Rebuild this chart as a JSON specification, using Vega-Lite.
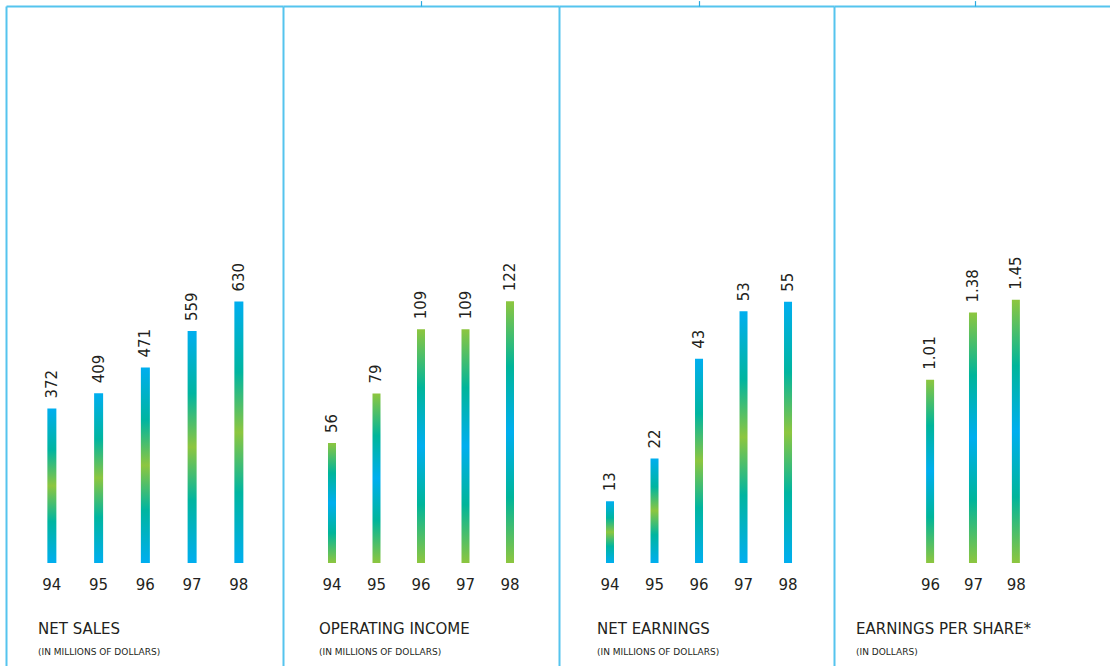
{
  "$schema": "https://vega.github.io/schema/vega-lite/v6.json",
  "background": "white",
  "padding": {"left": 6, "top": 0, "right": 0, "bottom": 0},
  "spacing": 0,
  "bounds": "flush",
  "config": {
    "view": {"stroke": null},
    "font": "DejaVu Sans",
    "axis": {"labelFont": "DejaVu Sans", "labelColor": "#231f20"},
    "title": {"font": "DejaVu Sans", "color": "#231f20", "fontSize": 15, "fontWeight": "normal", "subtitleFont": "DejaVu Sans", "subtitleFontSize": 9, "subtitleColor": "#231f20", "subtitlePadding": 11, "orient": "bottom", "anchor": "start", "frame": "group", "offset": -44}
  },
  "datasets": {
    "fin": [
      {"metric": "Net sales", "year": 94, "value": 372},
      {"metric": "Net sales", "year": 95, "value": 409},
      {"metric": "Net sales", "year": 96, "value": 471},
      {"metric": "Net sales", "year": 97, "value": 559},
      {"metric": "Net sales", "year": 98, "value": 630},
      {"metric": "Operating income", "year": 94, "value": 56},
      {"metric": "Operating income", "year": 95, "value": 79},
      {"metric": "Operating income", "year": 96, "value": 109},
      {"metric": "Operating income", "year": 97, "value": 109},
      {"metric": "Operating income", "year": 98, "value": 122},
      {"metric": "Net earnings", "year": 94, "value": 13},
      {"metric": "Net earnings", "year": 95, "value": 22},
      {"metric": "Net earnings", "year": 96, "value": 43},
      {"metric": "Net earnings", "year": 97, "value": 53},
      {"metric": "Net earnings", "year": 98, "value": 55},
      {"metric": "Earnings per share", "year": 96, "value": 1.01},
      {"metric": "Earnings per share", "year": 97, "value": 1.38},
      {"metric": "Earnings per share", "year": 98, "value": 1.45}
    ]
  },
  "hconcat": [
    {
      "width": 277, "height": 660,
      "data": {"name": "fin"},
      "transform": [{"filter": "datum.metric === 'Net sales'"}],
      "title": {"text": "NET SALES", "subtitle": "(IN MILLIONS OF DOLLARS)", "dx": 32},
      "encoding": {
        "x": {"field": "year", "type": "ordinal", "sort": null,
          "scale": {"paddingInner": 0, "paddingOuter": 0.4626, "align": 0.52},
          "axis": {"orient": "bottom", "offset": -77, "labelPadding": 0, "ticks": false, "domain": false, "title": null, "labelAngle": 0, "labelFontSize": 15, "labelBaseline": "alphabetic"}},
        "y": {"field": "value", "type": "quantitative",
          "scale": {"domain": [-248.2, 1342.2], "nice": false},
          "axis": {"orient": "left", "domain": true, "domainColor": "#55c4ee", "domainWidth": 2, "labels": false, "ticks": false, "title": null, "grid": true, "gridColor": "#55c4ee", "gridWidth": 2, "values": [1342.2]}}
      },
      "layer": [
        {"mark": {"type": "bar", "size": 9, "fill": {"gradient": "linear", "x1": 0, "y1": 0, "x2": 0, "y2": 1, "stops": [{"offset": 0, "color": "#00aeef"}, {"offset": 0.27, "color": "#00b5a0"}, {"offset": 0.5, "color": "#8dc63f"}, {"offset": 0.73, "color": "#00b5a0"}, {"offset": 1, "color": "#00aeef"}]}}},
        {"mark": {"type": "text", "angle": 270, "align": "left", "baseline": "middle", "dx": 10, "fontSize": 15, "color": "#231f20"},
          "encoding": {"text": {"field": "value", "type": "quantitative", "format": "d"}}}
      ]
    },
    {
      "width": 276, "height": 660,
      "data": {"name": "fin"},
      "transform": [{"filter": "datum.metric === 'Operating income'"}],
      "title": {"text": "OPERATING INCOME", "subtitle": "(IN MILLIONS OF DOLLARS)", "dx": 36},
      "encoding": {
        "y": {"field": "value", "type": "quantitative",
          "scale": {"domain": [-48.0, 259.7], "nice": false},
          "axis": {"orient": "left", "domain": true, "domainColor": "#55c4ee", "domainWidth": 2, "labels": false, "ticks": false, "title": null, "grid": true, "gridColor": "#55c4ee", "gridWidth": 2, "values": [259.7]}}
      },
      "resolve": {"axis": {"x": "independent"}},
      "layer": [
        {"mark": {"type": "bar", "size": 8, "fill": {"gradient": "linear", "x1": 0, "y1": 0, "x2": 0, "y2": 1, "stops": [{"offset": 0, "color": "#8dc63f"}, {"offset": 0.25, "color": "#00b59a"}, {"offset": 0.5, "color": "#00aeef"}, {"offset": 0.75, "color": "#00b59a"}, {"offset": 1, "color": "#8dc63f"}]}},
          "encoding": {"x": {"field": "year", "type": "ordinal", "sort": null,
            "scale": {"paddingInner": 0, "paddingOuter": 0.601, "align": 0.5},
            "axis": {"orient": "bottom", "offset": -77, "labelPadding": 0, "ticks": false, "domain": false, "title": null, "labelAngle": 0, "labelFontSize": 15, "labelBaseline": "alphabetic"}}}},
        {"mark": {"type": "text", "angle": 270, "align": "left", "baseline": "middle", "dx": 10, "fontSize": 15, "color": "#231f20"},
          "encoding": {"text": {"field": "value", "type": "quantitative", "format": "d"},
            "x": {"field": "year", "type": "ordinal", "sort": null,
              "axis": {"orient": "top", "labels": false, "domain": false, "title": null, "ticks": true, "tickSize": 5.4, "tickWidth": 1.2, "tickColor": "#2aa9e0", "values": [96]}}}}
      ]
    },
    {
      "width": 275, "height": 660,
      "data": {"name": "fin"},
      "transform": [{"filter": "datum.metric === 'Net earnings'"}],
      "title": {"text": "NET EARNINGS", "subtitle": "(IN MILLIONS OF DOLLARS)", "dx": 38},
      "encoding": {
        "y": {"field": "value", "type": "quantitative",
          "scale": {"domain": [-21.68, 117.26], "nice": false},
          "axis": {"orient": "left", "domain": true, "domainColor": "#55c4ee", "domainWidth": 2, "labels": false, "ticks": false, "title": null, "grid": true, "gridColor": "#55c4ee", "gridWidth": 2, "values": [117.26]}}
      },
      "resolve": {"axis": {"x": "independent"}},
      "layer": [
        {"mark": {"type": "bar", "size": 8, "fill": {"gradient": "linear", "x1": 0, "y1": 0, "x2": 0, "y2": 1, "stops": [{"offset": 0, "color": "#00aeef"}, {"offset": 0.27, "color": "#00b5a0"}, {"offset": 0.5, "color": "#8dc63f"}, {"offset": 0.73, "color": "#00b5a0"}, {"offset": 1, "color": "#00aeef"}]}},
          "encoding": {"x": {"field": "year", "type": "ordinal", "sort": null,
            "scale": {"paddingInner": 0, "paddingOuter": 0.59, "align": 0.548},
            "axis": {"orient": "bottom", "offset": -77, "labelPadding": 0, "ticks": false, "domain": false, "title": null, "labelAngle": 0, "labelFontSize": 15, "labelBaseline": "alphabetic"}}}},
        {"mark": {"type": "text", "angle": 270, "align": "left", "baseline": "middle", "dx": 10, "fontSize": 15, "color": "#231f20"},
          "encoding": {"text": {"field": "value", "type": "quantitative", "format": "d"},
            "x": {"field": "year", "type": "ordinal", "sort": null,
              "axis": {"orient": "top", "labels": false, "domain": false, "title": null, "ticks": true, "tickSize": 5.4, "tickWidth": 1.2, "tickColor": "#2aa9e0", "values": [96]}}}}
      ]
    },
    {
      "width": 276, "height": 660,
      "data": {"name": "fin"},
      "transform": [{"filter": "datum.metric === 'Earnings per share'"}],
      "title": {"text": "EARNINGS PER SHARE*", "subtitle": "(IN DOLLARS)", "dx": 22},
      "encoding": {
        "y": {"field": "value", "type": "quantitative",
          "scale": {"domain": [-0.5675, 3.069], "nice": false},
          "axis": {"orient": "left", "domain": true, "domainColor": "#55c4ee", "domainWidth": 2, "labels": false, "ticks": false, "title": null, "grid": true, "gridColor": "#55c4ee", "gridWidth": 2, "values": [3.069]}}
      },
      "resolve": {"axis": {"x": "independent"}},
      "layer": [
        {"mark": {"type": "bar", "size": 8, "fill": {"gradient": "linear", "x1": 0, "y1": 0, "x2": 0, "y2": 1, "stops": [{"offset": 0, "color": "#8dc63f"}, {"offset": 0.25, "color": "#00b59a"}, {"offset": 0.5, "color": "#00aeef"}, {"offset": 0.75, "color": "#00b59a"}, {"offset": 1, "color": "#8dc63f"}]}},
          "encoding": {"x": {"field": "year", "type": "quantitative",
            "scale": {"domain": [93.876, 100.078], "nice": false, "zero": false},
            "axis": {"orient": "bottom", "offset": -77, "labelPadding": 0, "ticks": false, "domain": false, "grid": false, "title": null, "labelAngle": 0, "labelFontSize": 15, "labelBaseline": "alphabetic", "values": [96, 97, 98], "format": "d", "labelFlush": false}}}},
        {"mark": {"type": "text", "angle": 270, "align": "left", "baseline": "middle", "dx": 10, "fontSize": 15, "color": "#231f20"},
          "encoding": {"text": {"field": "value", "type": "quantitative", "format": ".2f"},
            "x": {"field": "year", "type": "quantitative",
              "axis": {"orient": "top", "labels": false, "domain": false, "grid": false, "title": null, "ticks": true, "tickSize": 5.4, "tickWidth": 1.2, "tickColor": "#2aa9e0", "values": [97.05]}}}}
      ]
    }
  ]
}
